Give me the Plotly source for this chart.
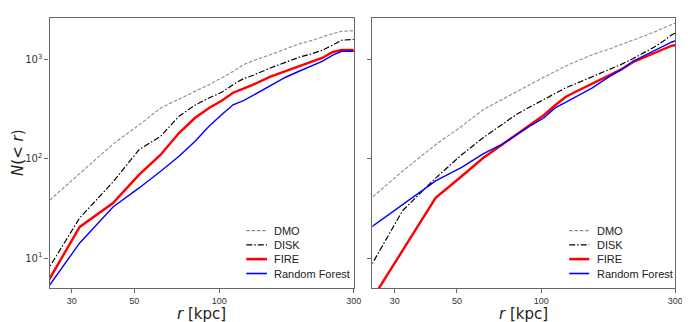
import plotly.graph_objects as go

# radii (kpc) sampled by the profiles
r_kpc = [22, 32, 42, 52, 62, 72, 82, 92, 102, 112, 122, 132, 152, 172, 192, 212, 232, 252, 272, 292, 302]

# left panel
dmo_L = [27.7, 71, 141, 220, 326, 400, 475, 560, 655, 760, 891, 977, 1123, 1282, 1439, 1556, 1694, 1828, 1932, 1959, 1960]
disk_L = [4.5, 25.4, 58.5, 124, 169, 269, 347, 411, 469, 560, 643, 696, 825, 942, 1058, 1141, 1244, 1396, 1570, 1593, 1600]
fire_L = [3.3, 20.6, 35.9, 69.3, 110, 182, 258, 326, 386, 464, 511, 560, 674, 764, 850, 933, 1040, 1188, 1253, 1253, 1253]
rf_L = [3.2, 14.2, 32.7, 50.9, 75, 106, 150, 213, 279, 351, 386, 437, 552, 665, 764, 858, 963, 1107, 1215, 1215, 1215]

# right panel
dmo_R = [30.1, 75, 139, 213, 313, 395, 480, 569, 665, 764, 858, 948, 1123, 1261, 1416, 1580, 1722, 1888, 2089, 2291, 2350]
disk_R = [4.7, 30, 64, 110, 163, 221, 284, 339, 395, 461, 519, 569, 674, 774, 891, 1023, 1169, 1334, 1531, 1786, 1870]
fire_R = [2.2, 12.0, 40.4, 66.8, 102, 137, 178, 221, 275, 347, 420, 472, 578, 690, 793, 942, 1058, 1160, 1273, 1384, 1400]
rf_R = [16.1, 34.5, 60, 82, 112, 139, 178, 218, 258, 326, 370, 418, 519, 655, 790, 963, 1097, 1215, 1365, 1507, 1550]

series_names = ["DMO", "DISK", "FIRE", "Random Forest"]
x_tickvals = [30, 50, 100, 300]
x_ticktext = ["30", "50", "100", "300"]
y_tickvals = [10, 100, 1000]
y_ticktext = ["10<sup>1</sup>", "10<sup>2</sup>", "10<sup>3</sup>"]

styles = [
    dict(color="#8c8c8c", width=1.1, dash="3.5px,1.8px"),
    dict(color="#000000", width=1.2, dash="6px,2px,1.5px,2px"),
    dict(color="#ff0000", width=2.4, dash="solid"),
    dict(color="#0000ff", width=1.4, dash="solid"),
]

fig = go.Figure()
panels = [
    ([dmo_L, disk_L, fire_L, rf_L], "x", "y"),
    ([dmo_R, disk_R, fire_R, rf_R], "x2", "y2"),
]
for data, xa, ya in panels:
    for name, vals, st in zip(series_names, data, styles):
        fig.add_trace(go.Scatter(
            x=r_kpc, y=vals, mode="lines", name=name,
            line=st, xaxis=xa, yaxis=ya, showlegend=False,
        ))

W, H = 690, 322
frame_col = "#666666"
xr = [1.39794, 2.47712]
yr = [0.698, 3.42]
common_x = dict(
    type="log", range=xr, tickvals=x_tickvals, ticktext=x_ticktext,
    showgrid=False, zeroline=False, showline=True, mirror=True,
    linecolor=frame_col, linewidth=1.3, ticks="outside", ticklen=4,
    tickcolor=frame_col, tickwidth=1,
    tickfont=dict(family="Liberation Sans", size=9, color="#333333"),
)
common_y = dict(
    type="log", range=yr, tickvals=y_tickvals, ticktext=y_ticktext,
    showgrid=False, zeroline=False, showline=True, mirror=True,
    linecolor=frame_col, linewidth=1.3, ticks="outside", ticklen=4,
    tickcolor=frame_col, tickwidth=1,
    tickfont=dict(family="DejaVu Sans", size=10, color="#333333"),
)

fig.update_layout(
    width=W, height=H,
    margin=dict(l=0, r=0, t=10, b=42),
    paper_bgcolor="white", plot_bgcolor="white",
    showlegend=False,
    xaxis=dict(domain=[42 / W, 349.7 / W], anchor="y", **common_x),
    xaxis2=dict(domain=[368.7 / W, 675 / W], anchor="y2", **common_x),
    yaxis=dict(domain=[0, 1], anchor="x", **common_y),
    yaxis2=dict(domain=[0, 1], anchor="x2", matches="y", showticklabels=False, **common_y),
)

title_font = dict(family="DejaVu Sans", size=15, color="#222222")
# axis titles
for xa in ["x", "x2"]:
    fig.add_annotation(text="<i>r</i> [kpc]", xref=f"{xa} domain", yref="paper",
                       x=0.5, y=-0.0963, xanchor="center", yanchor="middle",
                       showarrow=False, font=title_font)
fig.add_annotation(text="<i>N</i>(< <i>r</i>)", xref="paper", yref="paper",
                   x=10 / W, y=0.5, xanchor="center", yanchor="middle",
                   textangle=-90, showarrow=False, font=title_font)

# per-panel legends (sample line + label), placed in axis-domain coordinates
leg_rows = [0.2122, 0.1596, 0.107, 0.0537]
leg_geom = {"x": (0.647, 0.715, 0.733), "x2": (0.650, 0.716, 0.734)}
leg_font = dict(family="Liberation Sans", size=11, color="#222222")
for xa, ya in [("x", "y"), ("x2", "y2")]:
    x0, x1, xt = leg_geom[xa]
    for name, st, yy in zip(series_names, styles, leg_rows):
        fig.add_shape(type="line", xref=f"{xa} domain", yref=f"{ya} domain",
                      x0=x0, x1=x1, y0=yy, y1=yy,
                      line=dict(color=st["color"], width=st["width"] + 0.2, dash=st["dash"]))
        fig.add_annotation(text=name, xref=f"{xa} domain", yref=f"{ya} domain",
                           x=xt, y=yy, xanchor="left", yanchor="middle",
                           showarrow=False, font=leg_font)

fig.write_html("out.html")
